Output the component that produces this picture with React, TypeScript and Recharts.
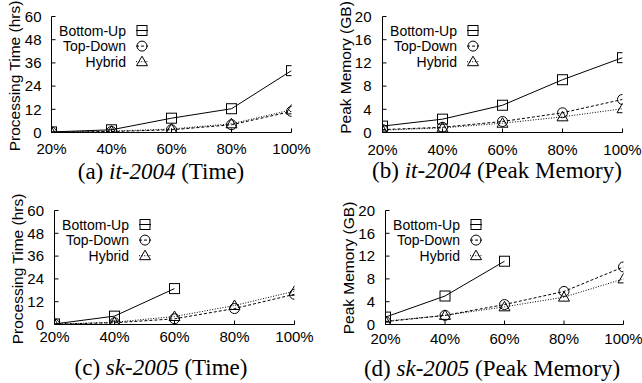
import React from 'react';
import { LineChart, Line, XAxis, YAxis, Legend } from 'recharts';

// ---------- data ----------
const percents = [20, 40, 60, 80, 100];
const xTicks = [20, 40, 60, 80, 100];
const timeTicks = [0, 12, 24, 36, 48, 60];
const memTicks = [0, 4, 8, 12, 16, 20];
const seriesNames = ['Bottom-Up', 'Top-Down', 'Hybrid'];

// (a) it-2004, processing time (hrs)
const itTimeBottomUp = [0.3, 1.4, 7.4, 12.3, 32.0];
const itTimeTopDown = [0.2, 0.5, 1.4, 4.0, 10.9];
const itTimeHybrid = [0.2, 0.7, 1.8, 4.5, 11.7];
// (b) it-2004, peak memory (GB)
const itMemBottomUp = [1.1, 2.3, 4.7, 9.1, 12.9];
const itMemTopDown = [0.5, 0.9, 1.9, 3.4, 5.7];
const itMemHybrid = [0.4, 0.8, 1.6, 2.7, 4.1];
// (c) sk-2005, processing time (hrs)
const skTimeBottomUp = [0.3, 4.4, 18.9, null, null];
const skTimeTopDown = [0.2, 0.9, 3.0, 8.4, 15.9];
const skTimeHybrid = [0.2, 1.2, 4.2, 10.0, 17.5];
// (d) sk-2005, peak memory (GB)
const skMemBottomUp = [1.3, 5.0, 11.1, null, null];
const skMemTopDown = [0.5, 1.6, 3.5, 5.8, 10.1];
const skMemHybrid = [0.6, 1.6, 3.1, 4.8, 8.0];

// ---------- styling ----------
const SANS = '"Liberation Sans", Arial, Helvetica, sans-serif';
const SERIF = '"Liberation Serif", "Times New Roman", Times, serif';
const kinds = ['square', 'circle', 'triangle'];
const dashes = [undefined, '3 2', '1 1.6'];

function Marker({ kind, cx, cy }: { kind: string; cx: number; cy: number }) {
  if (cx == null || cy == null || isNaN(cx) || isNaN(cy)) return null;
  if (kind === 'square')
    return <rect x={cx - 5} y={cy - 5} width={10} height={10} fill="none" stroke="#000" strokeWidth={1} />;
  if (kind === 'circle') return <circle cx={cx} cy={cy} r={5} fill="none" stroke="#000" strokeWidth={1} />;
  return (
    <path
      d={`M${cx},${cy - 5.5}L${cx + 5.5},${cy + 4}L${cx - 5.5},${cy + 4}Z`}
      fill="none"
      stroke="#000"
      strokeWidth={1}
    />
  );
}

const buildData = (bu: (number | null)[], td: (number | null)[], hy: (number | null)[]) =>
  percents.map((p, i) => ({ pct: p, bu: bu[i], td: td[i], hy: hy[i] }));

const LegendBox = () => (
  <svg width={110} height={60} style={{ display: 'block', overflow: 'visible' }}>
    {seriesNames.map((name, i) => {
      const y = 13.5 + i * 15.6;
      return (
        <g key={name}>
          <text
            x={74}
            y={y}
            textAnchor="end"
            dominantBaseline="central"
            fontFamily={SANS}
            fontSize={14}
            fill="#000"
          >
            {name}
          </text>
          <line x1={84} x2={96} y1={y} y2={y} stroke="#000" strokeWidth={1} strokeDasharray={dashes[i]} />
          <Marker kind={kinds[i]} cx={90} cy={y} />
        </g>
      );
    })}
  </svg>
);

type PanelProps = {
  left: number;
  top: number;
  width: number;
  height: number;
  margin: { top: number; right: number; bottom: number; left: number };
  data: any[];
  yMax: number;
  yTicks: number[];
  yLabel: string;
  yLabelPos: [number, number];
  xGap: number;
  yGap: number;
  caption: [string, string, string];
  capCenter: number;
  capBaseline: number;
};

const AXIS_W = 40;
const AXIS_H = 30;

function Panel(p: PanelProps) {
  const keys = ['bu', 'td', 'hy'];
  return (
    <>
      <div style={{ position: 'absolute', left: p.left, top: p.top, width: p.width, height: p.height }}>
        <LineChart width={p.width} height={p.height} data={p.data} margin={p.margin}>
          <XAxis
            dataKey="pct"
            type="number"
            domain={[20, 100]}
            ticks={xTicks}
            interval={0}
            allowDataOverflow
            tickFormatter={(v: number) => `${v}%`}
            height={AXIS_H}
            tickSize={-4}
            tickMargin={p.xGap + 4}
            axisLine={{ stroke: '#000', strokeWidth: 1 }}
            tickLine={{ stroke: '#000', strokeWidth: 1 }}
            tick={{ fill: '#000', fontSize: 15, fontFamily: SANS }}
          />
          <XAxis
            xAxisId="top"
            orientation="top"
            type="number"
            domain={[20, 100]}
            ticks={xTicks}
            interval={0}
            allowDataOverflow
            height={0}
            tickSize={-4}
            tick={false}
            axisLine={{ stroke: '#000', strokeWidth: 1 }}
            tickLine={{ stroke: '#000', strokeWidth: 1 }}
          />
          <YAxis
            type="number"
            domain={[0, p.yMax]}
            ticks={p.yTicks}
            interval={0}
            allowDataOverflow
            width={AXIS_W}
            tickSize={-4}
            tickMargin={p.yGap + 4}
            axisLine={{ stroke: '#000', strokeWidth: 1 }}
            tickLine={{ stroke: '#000', strokeWidth: 1 }}
            tick={{ fill: '#000', fontSize: 15, fontFamily: SANS }}
            label={{
              content: () => (
                <text
                  x={p.yLabelPos[0]}
                  y={p.yLabelPos[1]}
                  transform={`rotate(-90 ${p.yLabelPos[0]} ${p.yLabelPos[1]})`}
                  textAnchor="middle"
                  fontFamily={SANS}
                  fontSize={15.5}
                  fill="#000"
                >
                  {p.yLabel}
                </text>
              ),
            }}
          />
          <YAxis
            yAxisId="right"
            orientation="right"
            type="number"
            domain={[0, p.yMax]}
            ticks={p.yTicks}
            interval={0}
            allowDataOverflow
            width={0}
            tickSize={-4}
            tick={false}
            axisLine={{ stroke: '#000', strokeWidth: 1 }}
            tickLine={{ stroke: '#000', strokeWidth: 1 }}
          />
          <Legend
            layout="horizontal"
            verticalAlign="middle"
            align="center"
            content={() => <LegendBox />}
            wrapperStyle={{
              position: 'absolute',
              left: p.margin.left + AXIS_W,
              top: p.margin.top,
              width: 110,
              height: 60,
            }}
          />
          {keys.map((k, i) => (
            <Line
              key={k}
              dataKey={k}
              name={seriesNames[i]}
              type="linear"
              stroke="#000"
              strokeWidth={1}
              strokeDasharray={dashes[i]}
              isAnimationActive={false}
              connectNulls={false}
              activeDot={false}
              dot={(d: any) =>
                d.value == null ? (
                  <g key={`${k}-${d.index}`} />
                ) : (
                  <Marker key={`${k}-${d.index}`} kind={kinds[i]} cx={d.cx} cy={d.cy} />
                )
              }
            />
          ))}
        </LineChart>
      </div>
      <div
        style={{
          position: 'absolute',
          left: p.capCenter - 160,
          width: 320,
          top: p.capBaseline - 19.3,
          textAlign: 'center',
          fontFamily: SERIF,
          fontSize: 23,
          lineHeight: '23px',
          whiteSpace: 'nowrap',
          color: '#000',
        }}
      >
        {p.caption[0]} <i>{p.caption[1]}</i> {p.caption[2]}
      </div>
    </>
  );
}

export default function App() {
  return (
    <div style={{ position: 'absolute', left: 0, top: 0, width: 642, height: 383, background: '#fff', overflow: 'hidden' }}>
      <Panel
        left={0}
        top={0}
        width={321}
        height={190}
        margin={{ top: 16.5, right: 29.5, bottom: 27.5, left: 11.5 }}
        data={buildData(itTimeBottomUp, itTimeTopDown, itTimeHybrid)}
        yMax={60}
        yTicks={timeTicks}
        yLabel="Processing Time (hrs)"
        yLabelPos={[20, 76]}
        xGap={11}
        yGap={10}
        caption={['(a)', 'it-2004', '(Time)']}
        capCenter={161}
        capBaseline={179}
      />
      <Panel
        left={321}
        top={0}
        width={321}
        height={190}
        margin={{ top: 16.5, right: 19.5, bottom: 27.5, left: 21.5 }}
        data={buildData(itMemBottomUp, itMemTopDown, itMemHybrid)}
        yMax={20}
        yTicks={memTicks}
        yLabel="Peak Memory (GB)"
        yLabelPos={[30, 67.5]}
        xGap={11.5}
        yGap={11}
        caption={['(b)', 'it-2004', '(Peak Memory)']}
        capCenter={497}
        capBaseline={178}
      />
      <Panel
        left={0}
        top={190}
        width={321}
        height={193}
        margin={{ top: 20.5, right: 26.5, bottom: 28.5, left: 14.5 }}
        data={buildData(skTimeBottomUp, skTimeTopDown, skTimeHybrid)}
        yMax={60}
        yTicks={timeTicks}
        yLabel="Processing Time (hrs)"
        yLabelPos={[22.7, 79]}
        xGap={7}
        yGap={10.5}
        caption={['(c)', 'sk-2005', '(Time)']}
        capCenter={161}
        capBaseline={375}
      />
      <Panel
        left={321}
        top={190}
        width={321}
        height={193}
        margin={{ top: 20.5, right: 18.5, bottom: 28.5, left: 24.5 }}
        data={buildData(skMemBottomUp, skMemTopDown, skMemHybrid)}
        yMax={20}
        yTicks={memTicks}
        yLabel="Peak Memory (GB)"
        yLabelPos={[33.3, 78]}
        xGap={9}
        yGap={10.5}
        caption={['(d)', 'sk-2005', '(Peak Memory)']}
        capCenter={492}
        capBaseline={376}
      />
    </div>
  );
}
